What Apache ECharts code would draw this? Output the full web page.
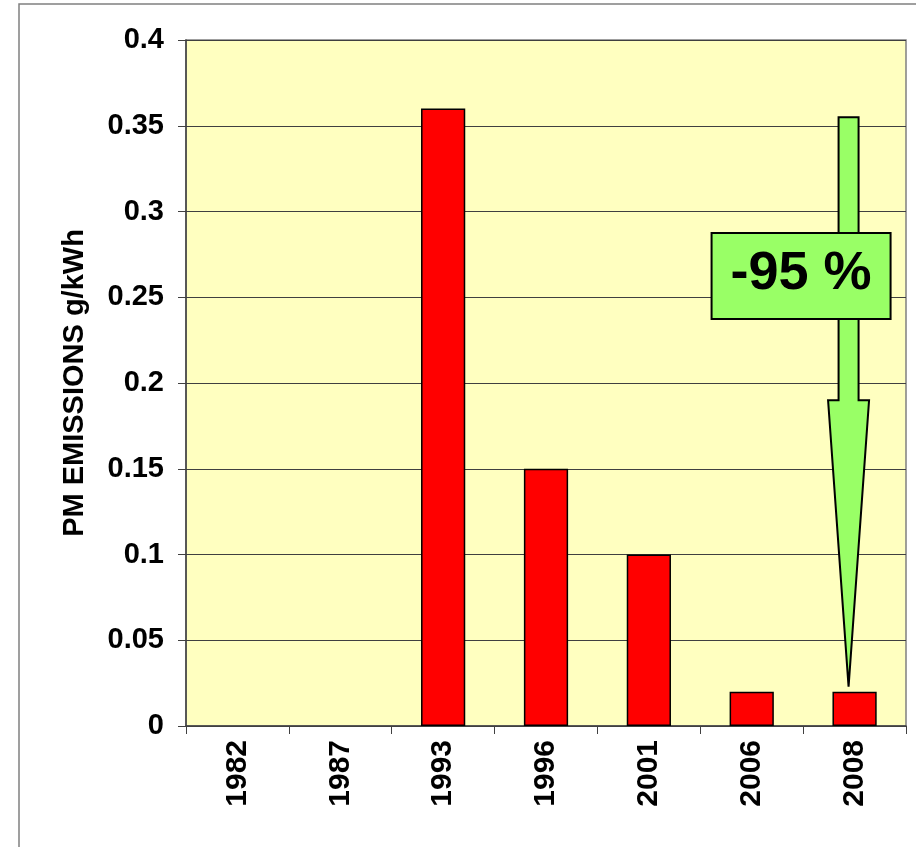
<!DOCTYPE html>
<html>
<head>
<meta charset="utf-8">
<script src="https://cdn.jsdelivr.net/npm/echarts@6/dist/echarts.min.js"></script>
<style>
  html, body { margin: 0; padding: 0; background: #fff; }
  #chart { width: 916px; height: 847px; }
</style>
</head>
<body>
<div id="chart"></div>
<script>
// data
const years = ['1982', '1987', '1993', '1996', '2001', '2006', '2008'];
const pmValues = [0, 0, 0.36, 0.15, 0.10, 0.02, 0.02];
const yTicks = [0, 0.05, 0.1, 0.15, 0.2, 0.25, 0.3, 0.35, 0.4];
// annotation: arrow from 0.355 down to the 2008 bar, head starts at 0.19
const arrowFrom = 0.355, arrowHead = 0.19, arrowTo = 0.023;
const boxTop = 0.2875, boxBottom = 0.2373;
const reductionLabel = '-95 %';

const font = '"Liberation Sans", Arial, sans-serif';
const chart = echarts.init(document.getElementById('chart'));

chart.setOption({
  animation: false,
  grid: { left: 186, top: 40, right: 10, bottom: 121, show: true,
    backgroundColor: '#FFFFC0', borderColor: '#808080', borderWidth: 1.5 },
  xAxis: {
    type: 'category',
    data: years,
    axisLine: { lineStyle: { color: '#404040', width: 1.5 } },
    axisTick: { show: true, length: 8, interval: 0, lineStyle: { color: '#404040' } },
    axisLabel: { rotate: 90, margin: 14, color: '#000', fontSize: 30,
      fontWeight: 'bold', fontFamily: font, interval: 0 }
  },
  yAxis: {
    type: 'value',
    min: 0, max: 0.4, interval: 0.05,
    name: 'PM EMISSIONS g/kWh',
    nameLocation: 'middle',
    nameGap: 97,
    nameTextStyle: { color: '#000', fontSize: 29, fontWeight: 'bold', fontFamily: font },
    axisLine: { show: true, lineStyle: { color: '#404040', width: 1.5 } },
    axisTick: { show: true, length: 8, inside: false, lineStyle: { color: '#404040' } },
    splitLine: { lineStyle: { color: '#404040', width: 1 } },
    axisLabel: { margin: 22, color: '#000', fontSize: 29, fontWeight: 'bold', fontFamily: font,
      formatter: v => yTicks.includes(+v.toFixed(2)) ? String(+v.toFixed(2)) : '' }
  },
  series: [{
    type: 'bar',
    data: pmValues.map(v => ({ value: v, itemStyle: { borderWidth: v === 0 ? 0 : 1.5 } })),
    barWidth: '43%',
    itemStyle: { color: '#FF0000', borderColor: '#000', borderWidth: 1.5 }
  }]
});

// outer frame + annotation anchored through the axes
const cx = chart.convertToPixel({ xAxisIndex: 0 }, '2008') - 6;
const py = v => chart.convertToPixel({ yAxisIndex: 0 }, v);
const yTop = py(arrowFrom), yH = py(arrowHead), yTip = py(arrowTo);
const bTop = py(boxTop), bBot = py(boxBottom);
const bLeft = cx - 137, bRight = cx + 42;

chart.setOption({
  graphic: [
    { type: 'rect', shape: { x: 19, y: 4, width: 920, height: 900 },
      style: { fill: 'none', stroke: '#808080', lineWidth: 1.5 }, z: -1, silent: true },
    { type: 'polygon', z: 100,
      shape: { points: [[cx - 10, yTop], [cx + 10, yTop], [cx + 10, yH], [cx + 20.5, yH],
        [cx, yTip], [cx - 20.5, yH], [cx - 10, yH]] },
      style: { fill: '#99FF66', stroke: '#000', lineWidth: 2 } },
    { type: 'rect', z: 101,
      shape: { x: bLeft, y: bTop, width: bRight - bLeft, height: bBot - bTop },
      style: { fill: '#99FF66', stroke: '#000', lineWidth: 2 } },
    { type: 'text', z: 102, x: (bLeft + bRight) / 2, y: (bTop + bBot) / 2 - 2,
      style: { text: reductionLabel, fill: '#000', font: 'bold 54px ' + font,
        align: 'center', verticalAlign: 'middle' } }
  ]
});
</script>
</body>
</html>
